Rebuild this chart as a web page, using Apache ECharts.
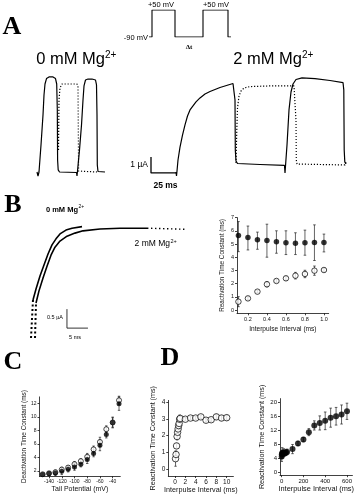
<!DOCTYPE html>
<html><head><meta charset="utf-8">
<script src="https://cdn.jsdelivr.net/npm/echarts@6/dist/echarts.min.js"></script>
<style>html,body{margin:0;padding:0;background:#fff}#c{width:356px;height:500px}</style>
</head><body><div id="c"></div><script>
// ---- Panel A: voltage protocol (ms, mV)
const protocolT = [0, 3, 3, 26, 26, 54, 54, 79, 79, 82];
const protocolV = [-90, -90, 50, 50, -90, -90, 50, 50, -90, -90];
// ---- Panel A: 0 mM Mg traces (ms, µA)
const a0SolidT = [0, 1, 2, 4, 6, 7, 8, 9.5, 12, 16, 18.5, 19.7, 20.3, 20.6, 21.2, 22.5, 39.5, 40, 40.5, 42.5, 44.5, 46, 47, 48.5, 51, 55, 58.5, 59.5, 60, 60.3, 61, 68];
const a0SolidI = [0, -0.25, 0, 1.69, 3.56, 4.81, 5.5, 5.84, 5.94, 5.94, 5.84, 5.5, 3.9, 0.75, 0.13, 0, -0.03, -0.25, 0.06, 1.38, 2.94, 4.5, 5.38, 5.75, 5.81, 5.81, 5.75, 5.44, 3.56, 0.44, 0.03, 0];
const a0DotT = [21.5, 22, 23, 25, 40, 41, 41.3, 41.6, 43, 60];
const a0DotI = [1.38, 4.5, 5.25, 5.5, 5.5, 5.31, 2.63, 0.06, 0, 0];
// ---- Panel A: 2 mM Mg traces (ms, µA)
const a2SolidT = [0, 0.5, 1, 2, 4, 6.5, 9, 11.5, 14, 17, 20, 24, 29, 34, 44, 57, 58.5, 59, 59.3, 60, 61.5, 84, 108.5, 109, 109.5, 111, 113, 115, 117, 120, 126, 139, 154, 167, 167.8, 168.2, 168.8, 170];
const a2SolidI = [0, -0.25, 0.06, 0.75, 1.56, 2.31, 2.94, 3.5, 3.88, 4.13, 4.38, 4.63, 4.88, 5.03, 5.28, 5.53, 5.56, 4.5, 1.38, 0.69, 0.53, 0.47, 0.41, -0.06, 0.38, 1.69, 3.88, 5.0, 5.5, 5.78, 5.88, 5.84, 5.72, 5.59, 5.13, 1.38, 0.63, 0.5];
const a2DotT = [60, 60.8, 61.5, 63, 65, 68, 74, 94, 118, 119.5, 120, 120.3, 121, 144, 169, 170];
const a2DotI = [0.56, 2.63, 4.0, 4.75, 5.06, 5.25, 5.34, 5.38, 5.38, 5.31, 3.25, 0.75, 0.5, 0.47, 0.44, 0.63];
const aBarT = [-25, -25, 0];
const aBarI = [0.94, -0.06, -0.06];
// ---- Panel B left: normalized current traces (ms, µA)
const b0DotT = [0.24, 0.71];
const b0DotI = [0, 1.0];
const b0T = [0.71, 1.43, 2.38, 3.33, 4.29, 5.24, 6.19, 7.14, 8.57, 10.0, 12.38];
const b0I = [1.0, 1.29, 1.63, 1.92, 2.21, 2.45, 2.61, 2.74, 2.84, 2.89, 2.93];
const b2DotStartT = [1.19, 1.43];
const b2DotStartI = [0, 0.92];
const b2T = [1.43, 2.14, 3.10, 4.05, 5.0, 5.95, 7.14, 8.81, 10.71, 12.62, 16.67, 21.43, 27.86];
const b2I = [0.92, 1.24, 1.58, 1.89, 2.18, 2.39, 2.55, 2.68, 2.76, 2.82, 2.87, 2.89, 2.89];
const b2DotEndT = [27.86, 37.38];
const b2DotEndI = [2.89, 2.86];
const bBarT = [8.8, 8.8, 13.8];
const bBarI = [0.76, 0.26, 0.26];
// ---- Panel B right: reactivation time constant vs interpulse interval
const bIntervals = [0.1, 0.2, 0.3, 0.4, 0.5, 0.6, 0.7, 0.8, 0.9, 1.0];
const bClosed = [5.65, 5.5, 5.32, 5.27, 5.17, 5.1, 5.05, 5.1, 5.12, 5.12];
const bClosedHi = [6.7, 6.36, 5.9, 6.5, 6.0, 6.0, 5.85, 6.05, 6.45, 5.75];
const bClosedLo = [4.42, 4.55, 4.6, 4.0, 4.3, 4.2, 4.2, 4.15, 3.75, 4.4];
const bOpen = [0.63, 0.88, 1.39, 1.95, 2.2, 2.4, 2.6, 2.73, 2.98, 3.03];
const bOpenErr = [0.38, 0.12, 0.1, 0.2, 0.12, 0.15, 0.25, 0.28, 0.35, 0.12];
const bXTicks = [0.2, 0.4, 0.6, 0.8, 1.0];
const bYTicks = [0, 1, 2, 3, 4, 5, 6, 7];
// ---- Panel C: deactivation time constant vs tail potential
const cPotentials = [-150, -140, -130, -120, -110, -100, -90, -80, -70, -60, -50, -40, -30];
const cFilled = [1.45, 1.6, 1.7, 1.95, 2.25, 2.6, 3.0, 3.7, 4.6, 5.8, 7.4, 9.2, 12.0];
const cFilledErr = [0.2, 0.3, 0.4, 0.5, 0.4, 0.5, 0.4, 0.6, 0.5, 0.8, 0.5, 0.8, 1.0];
const cOpen = [1.5, 1.65, 1.8, 2.2, 2.5, 3.0, 3.45, 4.1, 5.2, 6.3, 8.2, 9.2, 12.5];
const cOpenErr = [0.2, 0.25, 0.3, 0.35, 0.3, 0.4, 0.35, 0.5, 0.5, 0.7, 0.5, 0.7, 0.6];
const cXTicks = [-140, -120, -100, -80, -60, -40];
const cYTicks = [2, 4, 6, 8, 10, 12];
// ---- Panel D left: 0-10 ms intervals
const dlIntervals = [0.1, 0.2, 0.3, 0.4, 0.5, 0.6, 0.7, 0.8, 0.9, 1.0, 2, 3, 4, 5, 6, 7, 8, 9, 10];
const dlValues = [0.63, 0.88, 1.39, 1.95, 2.2, 2.4, 2.6, 2.73, 2.98, 3.03, 2.98, 3.05, 3.05, 3.12, 2.92, 2.95, 3.12, 3.05, 3.07];
const dlErr = [0.45, 0.2, 0.15, 0.2, 0.12, 0.15, 0.2, 0.2, 0.25, 0.12, 0.1, 0.1, 0.1, 0.1, 0.1, 0.1, 0.15, 0.15, 0.15];
const dlXTicks = [0, 2, 4, 6, 8, 10];
const dlYTicks = [0, 1, 2, 3, 4];
// ---- Panel D right: 0-600 ms intervals
const drIntervals = [1, 2, 5, 10, 20, 30, 40, 50, 100, 150, 200, 250, 300, 350, 400, 450, 500, 550, 600];
const drValues = [4.6, 5.2, 5.6, 5.3, 5.8, 5.5, 5.7, 5.9, 6.7, 8.3, 9.4, 11.5, 13.4, 14.1, 14.7, 15.6, 16.0, 16.5, 17.4];
const drErr = [1.4, 1.2, 1.5, 1.0, 1.0, 0.8, 0.8, 0.8, 1.3, 0.6, 0.6, 1.0, 1.3, 2.0, 2.5, 2.7, 2.5, 2.7, 2.3];
const drXTicks = [0, 200, 400, 600];
const drYTicks = [0, 4, 8, 12, 16, 20];

const SANS = 'Liberation Sans, Arial, sans-serif';
const SERIF = 'Liberation Serif, Times New Roman, serif';
const INK = '#111';

function pairs(a, b) { return a.map((v, i) => [v, b[i]]); }
function hidden(gi, min, max) { return { type: 'value', gridIndex: gi, min, max, show: false }; }
function plotAxis(gi, min, max, ticks, name, fs, nameFs, nameGap, fmt) {
  return {
    type: 'value', gridIndex: gi, min, max, name, nameLocation: 'middle', nameGap,
    nameTextStyle: { fontFamily: SANS, fontSize: nameFs, color: INK },
    axisLine: { show: true, onZero: false, lineStyle: { color: INK, width: 0.8 } },
    axisTick: { show: true, length: 2, customValues: ticks, lineStyle: { color: INK, width: 0.8 } },
    axisLabel: { customValues: ticks, fontFamily: SANS, fontSize: fs, color: INK, margin: 3, formatter: fmt },
    splitLine: { show: false }
  };
}
function trace(xi, yi, data, dotted, w) {
  return { type: 'line', xAxisIndex: xi, yAxisIndex: yi, data, symbol: 'none', animation: false,
    lineStyle: { color: '#000', width: w || 1.2, type: dotted ? [1.2, 1.8] : 'solid' } };
}
function dotTrace(xi, yi, data, w, dash) {
  return { type: 'line', xAxisIndex: xi, yAxisIndex: yi, data, symbol: 'none', animation: false,
    lineStyle: { color: '#000', width: w, type: dash } };
}
function errRender(cap) {
  return function (params, api) {
    const x = api.value(0), lo = api.value(1), hi = api.value(2);
    const a = api.coord([x, lo]), b = api.coord([x, hi]);
    const st = { stroke: '#222', lineWidth: 0.7 };
    return { type: 'group', children: [
      { type: 'line', shape: { x1: a[0], y1: a[1], x2: b[0], y2: b[1] }, style: st },
      { type: 'line', shape: { x1: a[0] - cap, y1: a[1], x2: a[0] + cap, y2: a[1] }, style: st },
      { type: 'line', shape: { x1: b[0] - cap, y1: b[1], x2: b[0] + cap, y2: b[1] }, style: st }
    ] };
  };
}
function errSeries(xi, xs, lo, hi, cap) {
  return { type: 'custom', xAxisIndex: xi, yAxisIndex: xi, renderItem: errRender(cap), animation: false, z: 1,
    encode: { x: 0, y: [1, 2] }, data: xs.map((v, i) => [v, lo[i], hi[i]]) };
}
function symSeries(xi, xs, ys, filled, size) {
  return { type: 'scatter', xAxisIndex: xi, yAxisIndex: xi, data: pairs(xs, ys), symbol: 'circle', symbolSize: size, animation: false, z: 3,
    itemStyle: { color: filled ? '#000' : '#fff', borderColor: '#000', borderWidth: filled ? 0 : 0.9 } };
}
function sub(a, e) { return a.map((v, i) => v - e[i]); }
function add(a, e) { return a.map((v, i) => v + e[i]); }

const chart = echarts.init(document.getElementById('c'));
const txt = (text, x, y, size, align, extra) => Object.assign({ type: 'text', x, y, silent: true,
  style: { text, font: size + 'px ' + SANS, fill: '#000', textAlign: align || 'left', textVerticalAlign: 'middle' } }, extra || {});
const big = (text, x, y) => ({ type: 'text', x, y, silent: true,
  style: { text, font: 'bold 26px ' + SERIF, fill: '#000', textAlign: 'center', textVerticalAlign: 'middle' } });

chart.setOption({
  backgroundColor: '#fff',
  animation: false,
  grid: [
    { left: 37, top: 60, width: 70, height: 128 },        // 0 A left traces
    { left: 150, top: 60, width: 200, height: 128 },      // 1 A right traces
    { left: 149, top: 10, width: 82, height: 27 },        // 2 protocol
    { left: 30, top: 205, width: 168, height: 133 },      // 3 B left traces
    { left: 237, top: 217.6, width: 91.7, height: 95.7 }, // 4 B right
    { left: 39.5, top: 396.9, width: 80.8, height: 79.4 },// 5 C
    { left: 168.3, top: 400.4, width: 65.1, height: 75.6 },// 6 D left
    { left: 280, top: 398.6, width: 72.8, height: 76.6 }  // 7 D right
  ],
  xAxis: [
    hidden(0, 0, 70), hidden(1, -26, 174), hidden(2, 0, 82), hidden(3, 0, 40),
    plotAxis(4, 0.085, 1.05, bXTicks, 'Interpulse Interval (ms)', 5.5, 6.6, 12, v => Number(v).toFixed(1)),
    plotAxis(5, -155, -28, cXTicks, 'Tail Potential (mV)', 5, 7, 8),
    plotAxis(6, -1.3, 11.3, dlXTicks, 'Interpulse Interval (ms)', 6.5, 7.2, 10),
    plotAxis(7, -15, 650, drXTicks, 'Interpulse Interval (ms)', 6, 7.4, 10)
  ],
  yAxis: [
    hidden(0, -1, 7), hidden(1, -1, 7), hidden(2, -90, 50), hidden(3, 0, 3.5),
    plotAxis(4, -0.25, 7, bYTicks, 'Reactivation Time Constant (ms)', 5.5, 6.4, 12),
    plotAxis(5, 1.2, 13, cYTicks, 'Deactivation Time Constant (ms)', 5, 6.4, 10),
    plotAxis(6, -0.4, 4.1, dlYTicks, 'Reactivation Time Constant (ms)', 6.5, 7.2, 12),
    plotAxis(7, -0.7, 21, drYTicks, 'Reactivation Time Constant (ms)', 6, 7.2, 14)
  ],
  series: [
    trace(0, 0, pairs(a0SolidT, a0SolidI)),
    trace(0, 0, pairs(a0DotT, a0DotI), true),
    trace(1, 1, pairs(a2SolidT, a2SolidI)),
    trace(1, 1, pairs(a2DotT, a2DotI), true),
    trace(1, 1, pairs(aBarT, aBarI), false, 1.3),
    trace(2, 2, pairs(protocolT, protocolV), false, 1.1),
    dotTrace(3, 3, pairs(b0DotT, b0DotI), 2, [2, 2.5]),
    trace(3, 3, pairs(b0T, b0I), false, 1.6),
    dotTrace(3, 3, pairs(b2DotStartT, b2DotStartI), 2, [2, 2.5]),
    trace(3, 3, pairs(b2T, b2I), false, 1.6),
    dotTrace(3, 3, pairs(b2DotEndT, b2DotEndI), 1.4, [1.4, 2.6]),
    trace(3, 3, pairs(bBarT, bBarI), false, 0.8),
    errSeries(4, bIntervals, bClosedLo, bClosedHi, 1.3),
    errSeries(4, bIntervals, sub(bOpen, bOpenErr), add(bOpen, bOpenErr), 1.3),
    symSeries(4, bIntervals, bClosed, true, 5.5),
    symSeries(4, bIntervals, bOpen, false, 5.5),
    errSeries(5, cPotentials, sub(cFilled, cFilledErr), add(cFilled, cFilledErr), 1.2),
    errSeries(5, cPotentials, sub(cOpen, cOpenErr), add(cOpen, cOpenErr), 1.2),
    symSeries(5, cPotentials, cOpen, false, 5),
    symSeries(5, cPotentials, cFilled, true, 5),
    errSeries(6, dlIntervals, sub(dlValues, dlErr), add(dlValues, dlErr), 1.2),
    symSeries(6, dlIntervals, dlValues, false, 6.5),
    errSeries(7, drIntervals, sub(drValues, drErr), add(drValues, drErr), 1.3),
    symSeries(7, drIntervals, drValues, true, 6)
  ],
  graphic: [
    big('A', 12, 27), big('B', 13, 205), big('C', 13, 362), big('D', 170, 358),
    txt('+50 mV', 161, 4.5, 7.5, 'center'),
    txt('+50 mV', 216, 4.5, 7.5, 'center'),
    txt('-90 mV', 148, 37.5, 7.5, 'right'),
    { type: 'text', x: 189, y: 47, silent: true, style: { text: 'Δt', font: 'bold 7px ' + SERIF, fill: '#000', textAlign: 'center', textVerticalAlign: 'middle' } },
    txt('0 mM Mg', 105, 59.5, 16.5, 'right'),
    txt('2+', 105, 55, 10, 'left'),
    txt('2 mM Mg', 302, 59.5, 16.5, 'right'),
    txt('2+', 302, 55, 10, 'left'),
    txt('1 µA', 148, 165, 8.5, 'right'),
    { type: 'text', x: 165.5, y: 186, silent: true, style: { text: '25 ms', font: 'bold 8.5px ' + SANS, fill: '#000', textAlign: 'center', textVerticalAlign: 'middle' } },
    { type: 'text', x: 78, y: 210, silent: true, style: { text: '0 mM Mg', font: 'bold 7.5px ' + SANS, fill: '#000', textAlign: 'right', textVerticalAlign: 'middle' } },
    txt('2+', 78.5, 207, 5, 'left'),
    txt('2 mM Mg', 170, 244, 8.5, 'right'),
    txt('2+', 170.5, 241, 5.5, 'left'),
    txt('0.5 µA', 63, 317, 5.5, 'right'),
    txt('5 ms', 75, 337, 5.5, 'center')
  ]
});
</script></body></html>
